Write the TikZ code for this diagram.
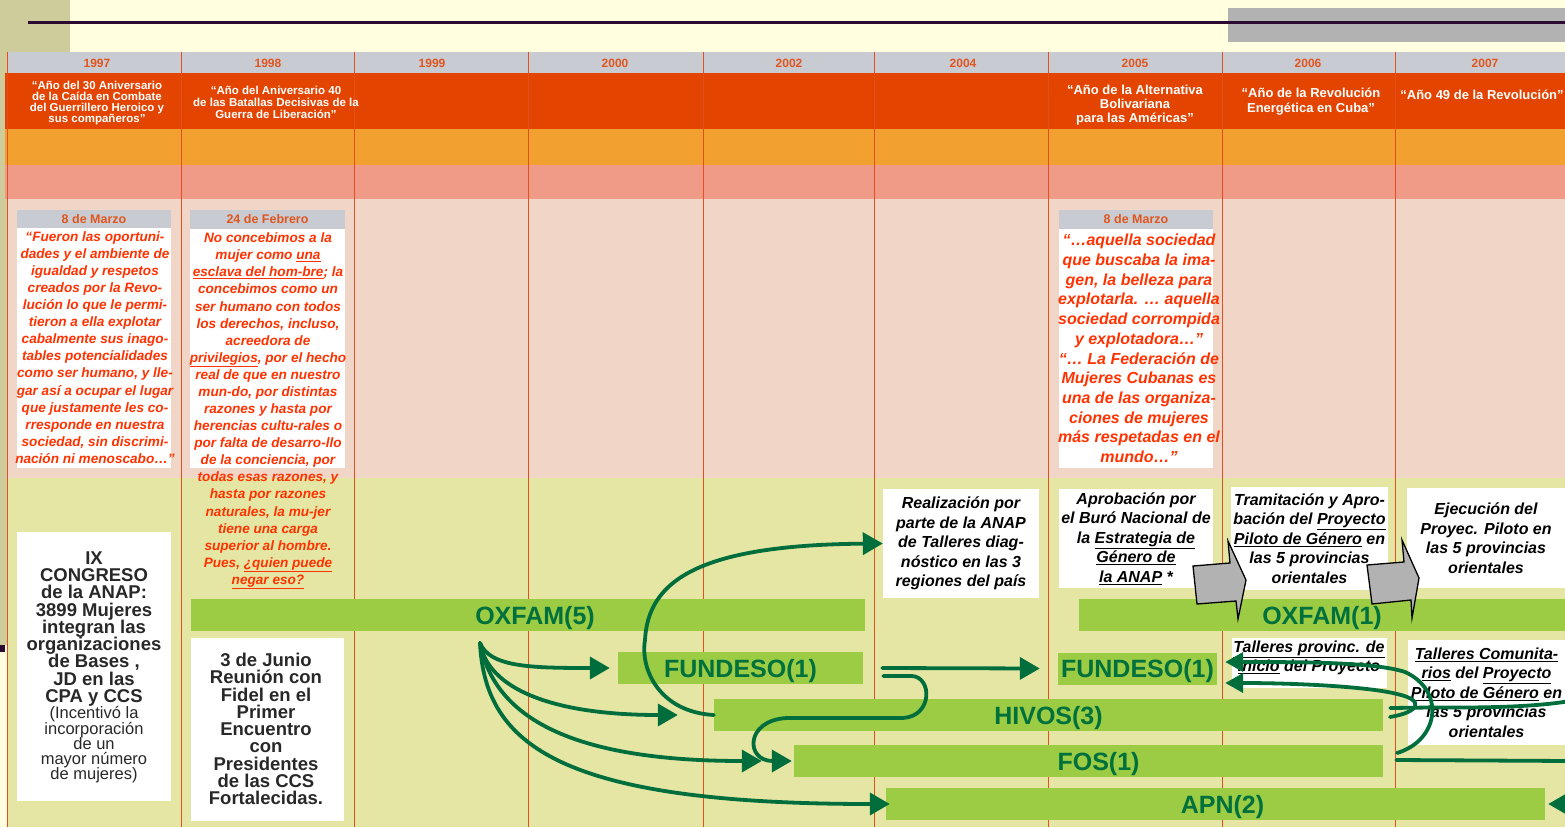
\documentclass[tikz,border=0pt]{standalone}
\usepackage{fontspec}
\setmainfont{Liberation Sans}
\usetikzlibrary{arrows.meta}
\definecolor{cream}{RGB}{255,255,224}
\definecolor{khaki}{RGB}{207,204,156}
\definecolor{darkline}{RGB}{45,10,50}
\definecolor{topgray}{RGB}{178,178,178}
\definecolor{hdrgray}{RGB}{200,203,210}
\definecolor{redrow}{RGB}{227,68,0}
\definecolor{orrow}{RGB}{242,161,48}
\definecolor{salrow}{RGB}{240,155,135}
\definecolor{pinkrow}{RGB}{241,214,200}
\definecolor{grnrow}{RGB}{229,230,164}
\definecolor{vlc}{RGB}{225,80,30}
\definecolor{yrc}{RGB}{225,85,30}
\definecolor{qred}{RGB}{255,50,0}
\definecolor{barg}{RGB}{155,204,68}
\definecolor{txtg}{RGB}{0,112,60}
\definecolor{arrg}{RGB}{0,110,60}
\definecolor{dgray}{RGB}{40,40,40}
\definecolor{blkgray}{RGB}{178,178,178}
\begin{document}
\begin{tikzpicture}[x=1pt,y=-1pt,
  vline/.style={draw=vlc, line width=1pt},
  yr/.style={text=yrc, font={\fontsize{12}{12}\selectfont\bfseries}, inner sep=0pt},
  rtext/.style={text=white, align=center, inner sep=0pt},
  hdr/.style={fill=hdrgray, text=yrc, font={\fontsize{12.5}{12.5}\selectfont\bfseries}, inner sep=0pt},
  wbox/.style={fill=white, inner sep=0pt},
  qtext/.style={text=qred, align=center, inner sep=0pt, font={\fontsize{13.6}{17.08}\selectfont\bfseries\itshape\lineskiplimit=-100pt}},
  btext/.style={text=black, align=center, inner sep=0pt, font={\fontsize{16}{19.5}\selectfont\bfseries\itshape\lineskiplimit=-100pt}},
  dtext/.style={text=dgray, align=center, inner sep=0pt},
  bar/.style={fill=barg, inner sep=0pt, text=txtg, text depth=0pt, font={\fontsize{25}{25}\selectfont\bfseries}},
  conn/.style={draw=arrg, line width=3.8pt, line cap=round, line join=round},
  arrtip/.style={-{Triangle[length=20pt,width=22pt]}},
  arrtips/.style={-{Triangle[length=18pt,width=19pt]}},
  blk/.style={fill=blkgray, draw=black, line width=1.3pt, line join=miter}
]
\useasboundingbox (0,0) rectangle (1565,827);
% background
\fill[cream] (0,0) rectangle (1565,827);
\fill[khaki] (0,0) rectangle (70,645);
\fill[darkline] (0,645) rectangle (5,652);
\fill[topgray] (1228,8) rectangle (1565,42);
\draw[darkline, line width=3pt] (28,22) -- (1565,22);
% table rows
\fill[hdrgray] (7,52) rectangle (1565,73);
\fill[redrow] (5,73) rectangle (1565,129);
\fill[orrow] (5,129) rectangle (1565,165);
\fill[salrow] (5,165) rectangle (1565,199);
\fill[pinkrow] (7,199) rectangle (1565,478);
\fill[grnrow] (7,478) rectangle (1565,827);
\foreach \x in {7,181,354,528,703,874,1048,1222,1395}
  \draw[vline] (\x,52) -- (\x,827);
% years
\foreach \x/\y in {97/1997,268/1998,432/1999,615/2000,789/2002,963/2004,1135/2005,1308/2006,1485/2007}
  \node[yr] (y\y) at (\x,63) {\y};
% red row texts
\node[rtext, font={\fontsize{11.5}{11.3}\selectfont\bfseries\lineskiplimit=-100pt}] (r97) at (97,103) {“Año del 30 Aniversario\\de la Caída en Combate\\del Guerrillero Heroico y\\sus compañeros”};
\node[rtext, font={\fontsize{11.5}{12}\selectfont\bfseries\lineskiplimit=-100pt}] (r98) at (276,102) {“Año del  Aniversario 40\\de las Batallas Decisivas de la\\Guerra de Liberación”};
\node[rtext, font={\fontsize{13}{14}\selectfont\bfseries\lineskiplimit=-100pt}] (r05) at (1135,105) {“Año de la Alternativa\\Bolivariana\\para las Américas”};
\node[rtext, font={\fontsize{13}{15}\selectfont\bfseries\lineskiplimit=-100pt}] (r06) at (1311,102) {“Año de la Revolución\\Energética en Cuba”};
\node[rtext, font={\fontsize{13}{15}\selectfont\bfseries}] (r07) at (1482,94.5) {“Año 49 de la Revolución”};
% quote 1997
\node[hdr, minimum width=154pt, minimum height=18pt] (h97) at (94,219) {8 de Marzo};
\node[wbox, minimum width=154pt, minimum height=240pt] (b97) at (94,348) {};
\node[qtext] (q97) at (95,347.5) {“Fueron las oportuni-\\dades y el ambiente de\\igualdad y respetos\\creados por la Revo-\\lución lo que le permi-\\tieron a ella explotar\\cabalmente sus inago-\\tables potencialidades\\como ser humano, y  lle-\\gar así a ocupar el lugar\\que justamente les co-\\rresponde en nuestra\\sociedad, sin discrimi-\\nación ni menoscabo…”};
% quote 1998
\node[hdr, minimum width=155pt, minimum height=19pt] (h98) at (267.5,219.5) {24 de Febrero};
\node[wbox, minimum width=155pt, minimum height=239pt] (b98) at (267.5,348.5) {};
\node[qtext] (q98) at (268,411) {No concebimos a la\\mujer como \underline{una}\\\underline{esclava del hom-bre}; la\\concebimos como un\\ser humano con todos\\los derechos, incluso,\\acreedora de\\\underline{privilegios}, por el hecho\\real de que en nuestro\\mun-do, por distintas\\razones y hasta por\\herencias cultu-rales o\\por falta de desarro-llo\\de la conciencia, por\\todas esas razones, y\\hasta por razones\\naturales, la mu-jer\\tiene una carga\\superior al hombre.\\Pues, \underline{¿quien puede}\\\underline{negar eso?}};
% quote 2005
\node[hdr, minimum width=154pt, minimum height=19pt] (h05) at (1136,219.5) {8 de Marzo};
\node[wbox, minimum width=154pt, minimum height=239pt] (b05) at (1136,348.5) {};
\node[qtext, font={\fontsize{16}{19.7}\selectfont\bfseries\itshape\lineskiplimit=-100pt}] (q05) at (1139,348.5) {“…aquella sociedad\\que buscaba la ima-\\gen, la belleza para\\explotarla. … aquella\\sociedad corrompida\\y explotadora…”\\“… La Federación de\\Mujeres Cubanas es\\una de las organiza-\\ciones de mujeres\\más respetadas en el\\mundo…”};
% bottom-left boxes
\node[wbox, minimum width=154pt, minimum height=269pt] (ixbox) at (94,666.5) {};
\node[dtext, font={\fontsize{18.5}{17.25}\selectfont\bfseries\lineskiplimit=-100pt}] (ixa) at (94,629) {IX\\CONGRESO\\de la ANAP:\\3899 Mujeres\\integran las\\organizaciones\\de Bases ,\\JD en las\\CPA y CCS};
\node[dtext, font={\fontsize{16.5}{15.2}\selectfont\lineskiplimit=-100pt}] (ixb) at (94,745) {(Incentivó la\\incorporación\\de un\\mayor número\\de mujeres)};
\node[wbox, minimum width=153pt, minimum height=183pt] (junbox) at (267.5,729.5) {};
\node[dtext, font={\fontsize{18.5}{17.25}\selectfont\bfseries\lineskiplimit=-100pt}] (junt) at (266,729) {3 de Junio\\Reunión con\\Fidel en el\\Primer\\Encuentro\\con\\Presidentes\\de las CCS\\Fortalecidas.};
% bars
\node[bar, minimum width=674pt, minimum height=32pt] (oxf5) at (528,615) {\hspace*{14pt}OXFAM(5)};
\node[bar, minimum width=245pt, minimum height=32pt] (fund1) at (740.5,668) {FUNDESO(1)};
\node[bar, minimum width=669pt, minimum height=32pt] (hivos) at (1048.5,715) {HIVOS(3)};
\node[bar, minimum width=589pt, minimum height=32pt] (fos) at (1088.5,761) {\hspace*{20pt}FOS(1)};
\node[bar, minimum width=659pt, minimum height=32pt] (apn) at (1215.5,804) {\hspace*{14pt}APN(2)};
\node[bar, minimum width=486pt, minimum height=32pt] (oxf1) at (1322,615) {OXFAM(1)};
\node[bar, minimum width=159pt, minimum height=32pt] (fund2) at (1137.5,668.5) {FUNDESO(1)};
% right-hand boxes
\node[wbox, btext, minimum width=156pt, minimum height=109pt] (real) at (961,543.5) {Realización por\\parte de la ANAP\\de Talleres diag-\\nóstico en las 3\\regiones del país};
\node[wbox, btext, minimum width=154pt, minimum height=99pt] (aprob) at (1136,538.5) {Aprobación por\\el Buró Nacional de\\la \underline{Estrategia de}\\\underline{Género de}\\\underline{la ANAP} *};
\node[wbox, btext, minimum width=157pt, minimum height=103pt] (tram) at (1309.5,538.5) {Tramitación y Apro-\\bación del \underline{Proyecto}\\\underline{Piloto de Género} en\\las 5 provincias\\orientales};
\node[wbox, btext, minimum width=158pt, minimum height=100pt] (ejec) at (1486,538) {Ejecución del\\Proyec. Piloto en\\las 5 provincias\\orientales};
\node[wbox, minimum width=155pt, minimum height=50pt] (tprov) at (1309.5,663) {};
\node[btext] (tprovt) at (1309,658) {\underline{Talleres provinc. de}\\\underline{Inicio} del Proyecto};
\node[wbox, btext, minimum width=157pt, minimum height=105pt] (tcom) at (1486.5,692.5) {\underline{Talleres Comunita-}\\\underline{rios}  del \underline{Proyecto}\\\underline{Piloto de Género} en\\las 5 provincias\\orientales};
% gray block arrows
\draw[blk] (1193,566) -- (1230,563) -- (1228,541) -- (1246,580) -- (1238,619) -- (1236,601) -- (1197,604) -- cycle;
\draw[blk] (1367,565) -- (1404,562) -- (1402,540) -- (1419,578) -- (1412,618) -- (1411,600) -- (1372,604) -- cycle;
% green connectors
\coordinate (o5) at (480,643);
\draw[conn,arrtip] (o5) .. controls (490,667) and (530,668) .. ([xshift=-8pt]fund1.west);
\draw[conn,arrtip] (o5) .. controls (488,688) and (550,715) .. ([xshift=-36pt]hivos.west);
\draw[conn,arrtip] (o5) .. controls (495,722) and (580,761) .. ([xshift=-32pt]fos.west);
\draw[conn,arrtip] (o5) .. controls (485,745) and (560,804) .. ([xshift=4pt]apn.west);
\draw[conn,arrtip] (hivos.west) .. controls (660,712) and (640,670) .. (645,640) .. controls (648,580) and (700,545) .. (real.west);
\draw[conn,arrtip] ([xshift=19pt]fund1.east) -- ([xshift=-18pt]fund2.west);
\draw[conn,arrtip] ([xshift=20pt,yshift=-8pt]fund1.east) -- (912,676) .. controls (932,677) and (933,716) .. (903,718) -- (787,718) .. controls (745,720) and (745,761) .. ([xshift=-2pt]fos.west);
\coordinate (u0) at (1397,753);
\coordinate (l0) at (1390,717);
\draw[conn,arrtips] (u0) .. controls (1440,740) and (1445,690) .. (1405,672) .. controls (1375,662) and (1300,662) .. ([xshift=8pt,yshift=6.5pt]fund2.east);
\draw[conn,arrtips] (l0) .. controls (1420,712) and (1425,700) .. (1397,694) .. controls (1370,687) and (1300,683) .. ([xshift=8pt,yshift=-14.5pt]fund2.east);
\coordinate (hr) at (1570,701);
\draw[conn] ([xshift=7pt,yshift=7pt]hivos.east) -- (1430,707.5) .. controls (1500,708) and (1540,706) .. (hr);
\coordinate (fr) at (1570,761);
\draw[conn] ([xshift=13pt,yshift=1pt]fos.east) -- (fr);
\coordinate (ar) at (1580,804);
\draw[conn,arrtip] (ar) -- ([xshift=3pt]apn.east);
\end{tikzpicture}
\end{document}
